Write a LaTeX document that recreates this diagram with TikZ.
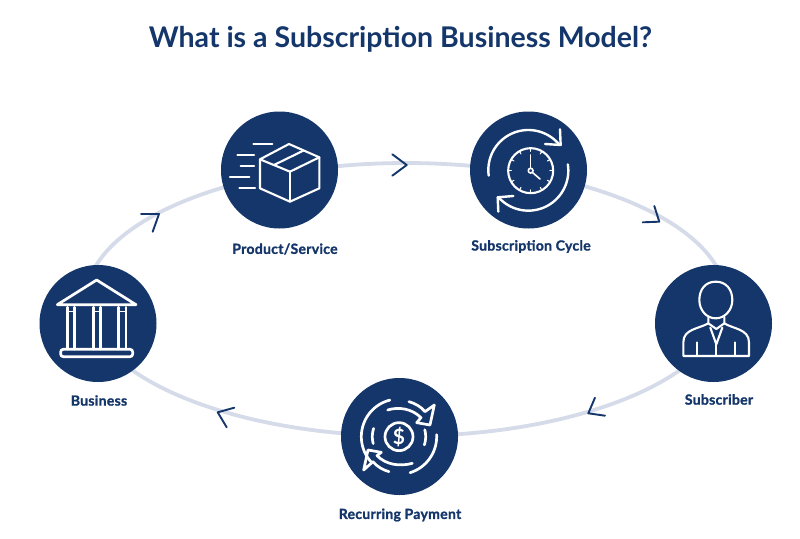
\documentclass[tikz,border=0pt]{standalone}
\usepackage{fontspec}
\setmainfont{Lato}
\newfontfamily\labelfont[FakeBold=1.2,LetterSpace=2]{Lato Bold}
\definecolor{navy}{HTML}{14366A}
\definecolor{ringc}{HTML}{D5DBE9}
\tikzset{
  ring/.style={draw=ringc,line width=3.8pt},
  hub/.style={circle,fill=navy,minimum size=117pt,inner sep=0pt},
  chev/.style={draw=navy,line width=1.9pt,line cap=round,line join=round},
  icon/.style={draw=white,line width=2.1pt,line cap=round,line join=round},
  heavy/.style={icon,line width=2.7pt},
  lab/.style={text=navy,font=\labelfont\fontsize{14}{16}\selectfont,inner sep=0pt,anchor=center},
  ttl/.style={text=navy,font=\bfseries\fontsize{28.5}{32}\selectfont,inner sep=0pt,anchor=center}
}
\newcommand\iarc[6][]{\draw[icon,#1] plot[domain=#5:#6,samples=40] ({#2+#4*cos(\x)},{#3-#4*sin(\x)});}
\begin{document}
\begin{tikzpicture}[x=1pt,y=-1pt]
\useasboundingbox (0,0) rectangle (800,538);
\fill[white] (0,0) rectangle (800,538);
% ring anchor coordinates on the ellipse
\coordinate (rP) at ({406+320*cos(113.3)},{299.5-136.5*sin(113.3)});
\coordinate (rC) at ({406+320*cos(67.5)},{299.5-136.5*sin(67.5)});
\coordinate (rS) at ({406+320*cos(-10)},{299.5-136.5*sin(-10)});
\coordinate (rR) at ({406+320*cos(-91)},{299.5-136.5*sin(-91)});
\coordinate (rB) at ({406+320*cos(190)},{299.5-136.5*sin(190)});
\draw[ring] (rP) arc[start angle=113.3,end angle=67.5,x radius=320pt,y radius=136.5pt];
\draw[ring] (rC) arc[start angle=67.5,end angle=-10,x radius=320pt,y radius=136.5pt];
\draw[ring] (rS) arc[start angle=-10,end angle=-91,x radius=320pt,y radius=136.5pt];
\draw[ring] (rR) arc[start angle=-91,end angle=-170,x radius=320pt,y radius=136.5pt];
\draw[ring] (rB) arc[start angle=190,end angle=113.3,x radius=320pt,y radius=136.5pt];
% chevrons
\draw[chev] (392.3,154.3) -- (406.7,165) -- (392.3,175.7);
\draw[chev] (654.3,206) -- (659.3,221.7) -- (642.7,222.3);
\draw[chev] (595,397.7) -- (588.3,413.3) -- (605,415.7);
\draw[chev] (234.3,407.7) -- (217.7,412.3) -- (226.7,427.3);
\draw[chev] (141,214) -- (159,214) -- (152.7,231.7);
% hubs
\node[hub] (product) at (279.5,170) {};
\node[hub] (cycle) at (528.5,170) {};
\node[hub] (subscriber) at (713.5,323.5) {};
\node[hub] (payment) at (399.5,436.5) {};
\node[hub] (business) at (98,323.5) {};
% title and labels
\node[ttl] (title) at (400.5,39) {What is a Subscription Business Model?};
\node[lab] (lproduct) at (285,249) {Product/Service};
\node[lab] (lcycle) at (531,246.5) {Subscription Cycle};
\node[lab] (lsubscriber) at (719,399.5) {Subscriber};
\node[lab] (lpayment) at (400,515) {Recurring Payment};
\node[lab] (lbusiness) at (99,400.5) {Business};
% box icon
\begin{scope}[shift={(210,100)},x=0.3333pt,y=-0.3333pt]
\draw[icon] (150,178) -- (237,132) -- (328,172) -- (240,215) -- cycle;
\draw[icon] (150,178) -- (150,265) -- (240,305) -- (328,265) -- (328,172);
\draw[icon] (240,215) -- (240,305);
\draw[icon] (192,195) -- (280,152);
\draw[icon] (130,133) -- (187,133);
\draw[icon] (82,166) -- (132,166);
\draw[icon] (92,198) -- (132,198);
\draw[icon] (60,231) -- (118,231);
\draw[icon] (88,263) -- (135,263);
\end{scope}
% clock icon
\begin{scope}[shift={(460,100)},x=0.3333pt,y=-0.3333pt]
\draw[icon] (212,212) circle[radius=22.5pt];
\draw[icon,line width=1.6pt] (212,212) circle[radius=2.4pt];
\draw[icon,line width=1.6pt] (212,165) -- (212,204);
\draw[icon,line width=1.6pt] (218,218) -- (240,237);
\foreach \a in {0,30,...,330}{
  \draw[icon,line width=1.1pt] ({212+67*cos(\a)},{212-67*sin(\a)}) -- ({212+58*cos(\a)},{212-58*sin(\a)});
}
\iarc[line width=2.4pt]{205}{210}{120}{188}{40}
\iarc[line width=2.4pt]{205}{212}{120}{9}{-139}
\draw[icon,line width=2.4pt] (300,88) -- (302,135) -- (255,132);
\draw[icon,line width=2.4pt] (160,288) -- (113,292) -- (115,335);
\end{scope}
% person icon
\begin{scope}[shift={(645,255)},x=0.3333pt,y=-0.3333pt]
\draw[icon] (212,80) .. controls (245,80) and (262,105) .. (262,135)
  .. controls (262,165) and (240,190) .. (212,190)
  .. controls (184,190) and (163,165) .. (163,135)
  .. controls (163,105) and (180,80) .. (212,80) -- cycle;
\draw[icon] (190,186) -- (190,205) .. controls (160,222) and (115,222) .. (115,262) -- (115,303) -- (312,303) -- (312,262) .. controls (312,222) and (265,222) .. (238,205) -- (238,186);
\draw[icon] (190,205) -- (214,222) -- (238,205);
\draw[icon] (196,218) -- (214,268) -- (232,218);
\draw[icon] (214,268) -- (214,303);
\draw[icon] (155,303) -- (155,262);
\draw[icon] (270,303) -- (270,262);
\end{scope}
% payment icon
\begin{scope}[shift={(335,375)},x=0.3333pt,y=-0.3333pt]
\draw[heavy] (192,185) circle[radius=14pt];
\node[text=white,font=\bfseries\fontsize{21}{21}\selectfont,inner sep=0pt] (dollar) at (192,186) {\$};
\iarc[heavy]{192}{185}{113}{104}{222}
\iarc[heavy]{192}{185}{113}{-73}{3}
\iarc[heavy]{192}{185}{80}{162}{195}
\iarc[heavy]{192}{185}{80}{-18}{15}
\draw[heavy] (222,80) .. controls (240,85) and (258,95) .. (270,110) -- (298,90) -- (285,150) -- (245,143) -- (258,128) .. controls (230,100) and (190,95) .. (158,105);
\draw[heavy] (162,290) .. controls (144,285) and (126,275) .. (114,260) -- (86,285) -- (99,225) -- (139,232) -- (126,242) .. controls (154,270) and (194,275) .. (232,265);
\end{scope}
% bank icon
\begin{scope}[shift={(30,255)},x=0.3333pt,y=-0.3333pt]
\draw[heavy] (82,149) -- (200,75) -- (318,149) -- cycle;
\draw[heavy] (112,157) -- (112,282);
\draw[heavy] (134,157) -- (134,282);
\draw[heavy] (190,157) -- (190,282);
\draw[heavy] (212,157) -- (212,282);
\draw[heavy] (265,157) -- (265,282);
\draw[heavy] (288,157) -- (288,282);
\draw[icon,line width=1.5pt] (112,170) -- (134,170);
\draw[icon,line width=1.5pt] (190,170) -- (212,170);
\draw[icon,line width=1.5pt] (265,170) -- (288,170);
\draw[heavy,rounded corners=2.5pt] (92,283) rectangle (308,305);
\end{scope}
\end{tikzpicture}
\end{document}
